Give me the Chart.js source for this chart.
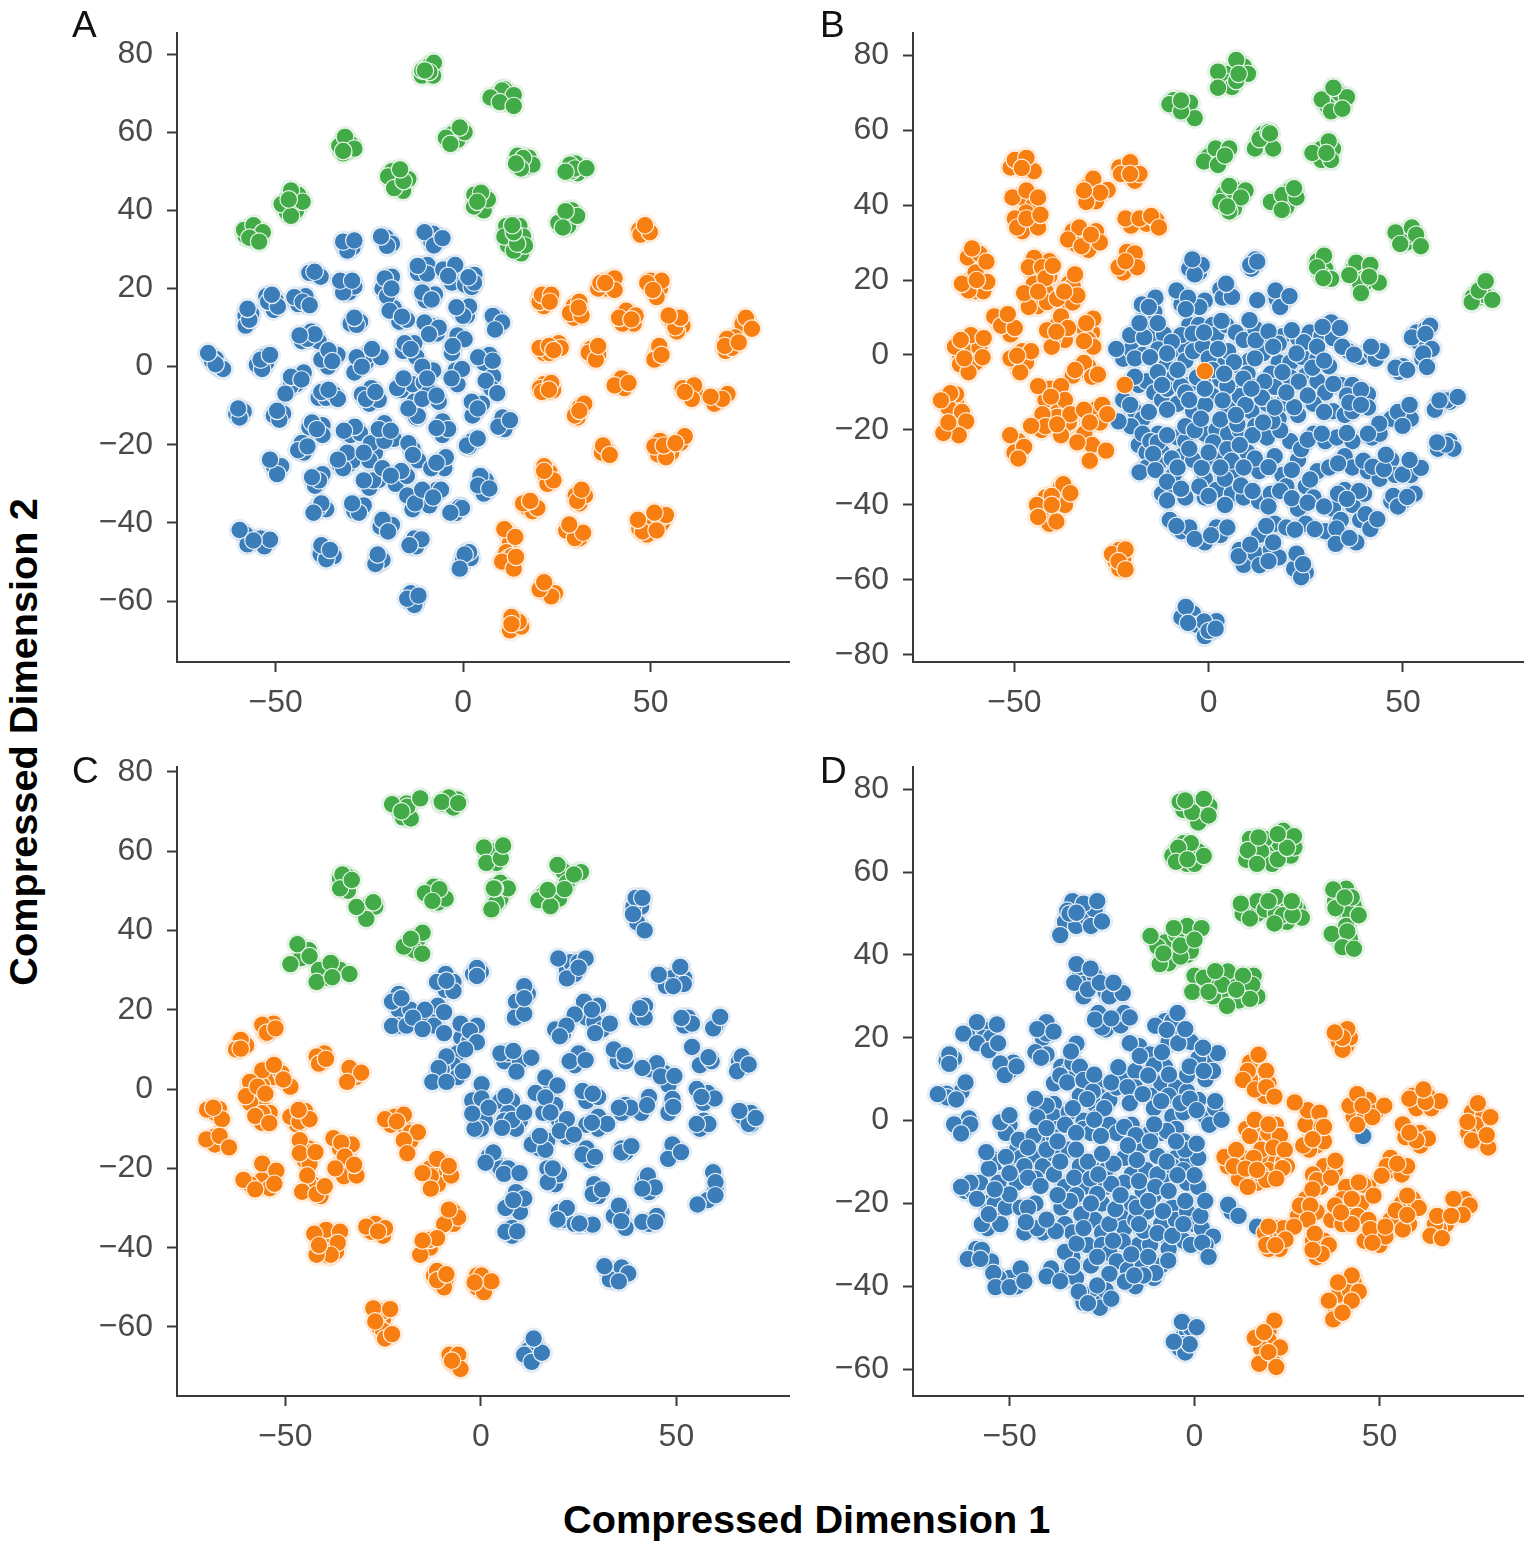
<!DOCTYPE html>
<html>
<head>
<meta charset="utf-8">
<title>Compressed dimensions</title>
<script src="https://cdn.jsdelivr.net/npm/chart.js@4"></script>
<style>
  html, body { margin: 0; background: #fff; }
  #page { position: relative; width: 1535px; height: 1549px; overflow: hidden; font-family: "Liberation Sans", Arial, sans-serif; }
  canvas { position: absolute; }
  .letter { position: absolute; font-size: 37px; line-height: 37px; color: #111; }
  .title { position: absolute; font-size: 39.7px; line-height: 40px; font-weight: bold; color: #000; white-space: nowrap; }
</style>
</head>
<body>
<div id="page">
  <canvas id="chartA" width="740" height="720" style="left:60px;top:10px"></canvas>
  <canvas id="chartB" width="740" height="720" style="left:796px;top:10px"></canvas>
  <canvas id="chartC" width="740" height="720" style="left:60px;top:744px"></canvas>
  <canvas id="chartD" width="740" height="720" style="left:796px;top:744px"></canvas>
  <div class="letter" style="left:72px;top:6px">A</div>
  <div class="letter" style="left:820px;top:6px">B</div>
  <div class="letter" style="left:72px;top:752px">C</div>
  <div class="letter" style="left:820px;top:752px">D</div>
  <div class="title" style="left:563px;top:1499px">Compressed Dimension 1</div>
  <div class="title" style="left:23px;top:742px;transform:translate(-50%,-50%) rotate(-90deg)">Compressed Dimension 2</div>
</div>
<script>
// Tick labels
const aXTicks = [-50, 0, 50], aYTicks = [80, 60, 40, 20, 0, -20, -40, -60];
const bXTicks = [-50, 0, 50], bYTicks = [80, 60, 40, 20, 0, -20, -40, -60, -80];
const cXTicks = [-50, 0, 50], cYTicks = [80, 60, 40, 20, 0, -20, -40, -60];
const dXTicks = [-50, 0, 50], dYTicks = [80, 60, 40, 20, 0, -20, -40, -60];

// Panel A points. The *Under lists sit beneath the visible top dots
const aBlueUnder = [[-66,2],[-67,1.5],[-65,0],[-60.5,-12],[-58.5,-11.5],[-58,13],[-56.5,13.5],[-58,10.5],[-55,0.5],[-52.5,1],[-53,2.5],[-50.5,14.5],[-52.5,18],[-50,17],[-50.5,-12.5],[-48,-12],[-50.5,-25.5],[-48.5,-25.5],[-58,-43],[-54,-44],[-53,-46],[-57.5,-45.5],[-44,16],[-42,18],[-40.5,9],[-43,6.5],[-38.5,6.5],[-44.5,-4.5],[-46,-5],[-42.5,-1.5],[-38.5,-8],[-36.5,-8],[-34.5,-7],[-41,24],[-38,23],[-36,3],[-36,0],[-33.5,3],[-41,-15.5],[-37.5,-15],[-37.5,-17.5],[-43,-19.5],[-42.5,-22],[-39.5,-30.5],[-37.5,-27.5],[-36.5,-36.5],[-38.5,-36],[-37,-48],[-34.5,-48.5],[-38,-48],[-31.5,31],[-29.5,30.5],[-31,21],[-30.5,19],[-29,20.5],[-30,11],[-27.5,11.5],[-26,1],[-25.5,3],[-29,-1.5],[-30,-17.5],[-27.5,-17],[-33,-25],[-30.5,-25],[-29.5,-24],[-23.5,-22],[-25,-24],[-24.5,-5.5],[-25,-9.5],[-22.5,-8.5],[-21,-14.5],[-23,-18],[-18.5,-18.5],[-25,-31],[-22.5,-29],[-18,-30],[-15,-28],[-29,-37],[-26.5,-35.5],[-22,-41],[-19,-40.5],[-22.5,-50],[-21.5,-49.5],[-20.5,33],[-19,31.5],[-21.5,20],[-19,23],[-18.5,15],[-17,11.5],[-15,12],[-16,4],[-13,6],[-12.5,2.5],[-16.5,-6],[-13.5,-4.5],[-13,-9],[-12.5,-13],[-13.5,-21],[-12,-24],[-13.5,-36.5],[-11.5,-33.5],[-12.5,-46],[-13,-44],[-13,-60.5],[-14,-58],[-13,-61],[-12,24],[-9.5,26],[-10,17],[-7.5,18.5],[-8.5,10.5],[-7,8.5],[-8,-1],[-10.5,-4],[-6.5,-9],[-9,-6.5],[-5.5,-14],[-5.5,-17.5],[-5,-26],[-8.5,-26],[-7,-31.5],[-9,-35.5],[-8,34],[-8.5,32],[-3,25.5],[-3,21.5],[-1.5,8],[-3,3.5],[-2,-1],[-1.5,-4.5],[-2,-37.5],[-1,-36],[0,-49.5],[2,-49],[0.5,21],[3,23.5],[-0.5,14],[1,13],[2.5,-19],[1.5,-20.5],[5,-9.5],[2.5,-12.5],[5.5,1],[7,3],[8,-2.5],[7.5,-5.5],[6,-29],[5.5,-32.5],[9,12.5],[9,10.5],[10.5,-13],[11,-16]];
const aBlue = [[-64,-0.6],[-66,0.6],[-68,3.5],[-59.6,-13],[-60,-10.7],[-57,12],[-57.5,14.8],[-53.6,-0.6],[-54,1.8],[-51.5,3],[-52,16.6],[-49.4,15.4],[-51,18.4],[-49,-13.6],[-49.6,-11.3],[-49.6,-27.5],[-51.5,-23.8],[-51.5,-44.3],[-59.6,-41.8],[-55.9,-44.5],[-45,17.8],[-42.8,16.6],[-40.9,15.7],[-41.5,7.1],[-39.6,8.3],[-43.6,8],[-45.9,-2.6],[-43.1,-3.3],[-47.4,-6.9],[-39.6,24.3],[-37.8,1.8],[-35.9,4.2],[-34.9,1.4],[-33.4,-8.3],[-37.8,-6.5],[-35.9,-5.9],[-40.3,-14.3],[-39,-16],[-44,-21.4],[-41.5,-20.4],[-38.4,-29.1],[-40.3,-28.3],[-37.8,-35],[-39.9,-37.4],[-36.5,-49.3],[-37.8,-45.7],[-35.5,-46.9],[-30.9,29.7],[-32,32],[-29,32.3],[-32,19],[-32.8,22],[-29.6,22],[-28.4,10.7],[-29,12.5],[-28.4,2.4],[-22,2.4],[-24.3,4.5],[-27,0],[-28.9,-15.4],[-31.8,-16.4],[-32,-26],[-30.9,-22],[-33.4,-23.8],[-24.6,-19.6],[-26.5,-22],[-27,-7.1],[-25.9,-8.3],[-23.4,-6.5],[-21,-19],[-22.5,-16],[-19.3,-16.4],[-24,-29.1],[-26.5,-29.1],[-21.5,-26],[-16.5,-26.7],[-19.3,-27.9],[-27.8,-37.4],[-29.6,-35],[-21.5,-39.2],[-20,-42.2],[-23.4,-50.5],[-22.8,-48.1],[-20.3,30.9],[-21.9,33.3],[-20.9,22.6],[-20.3,18],[-19.1,20],[-19.6,14.3],[-16.3,12.8],[-15.6,6],[-14,4.5],[-17.6,-5.5],[-15.9,-3],[-12.1,-12.6],[-14.6,-10.7],[-14.6,-19.6],[-13.4,-22.6],[-14.9,-33],[-12.8,-35],[-11.1,-44.2],[-14.3,-45.7],[-14.9,-59.4],[-11.9,-58.6],[-9.6,23.8],[-12.1,25.8],[-10.9,19],[-8.4,17.2],[-10.3,11.3],[-6.5,10],[-9.1,8.3],[-10.9,0],[-9.6,-3],[-10.9,-8.3],[-7.1,-7.4],[-4,-16],[-7.1,-15.7],[-4.6,-23.2],[-7.1,-24.6],[-10.9,-31.5],[-5.9,-31.5],[-8,-33.5],[-10.3,34.4],[-7.8,31],[-5.5,32.9],[-5.3,24.9],[-2.1,26],[-4,23.2],[0.4,7],[-2.8,5.3],[-0.3,-0.6],[-3.1,-3],[-0.3,-36.2],[-3.4,-37.4],[1.6,-47.5],[0.4,-48.1],[-0.9,-51.7],[2.3,20.4],[2.9,21.5],[1.4,22.9],[1.6,15.4],[0,13],[-1.8,15.2],[1,-20.2],[3.9,-18.4],[2.3,-9],[3.9,-10.7],[4,2.4],[6,-3.6],[7.9,1.5],[9.1,-6.8],[4.6,-28],[4,-30.4],[7,-31.2],[7.9,13],[10.4,11.3],[8.5,9.5],[9.4,-15.4],[12.5,-13.7]];
const aOrangeUnder = [[48,35],[47,35],[20.5,17.5],[22,17],[21.5,15.5],[39,22],[38,20],[36,20],[51,20.5],[52.5,20],[50,22],[29.5,15.5],[30,14],[29.5,12.5],[43,13],[45.5,11],[42.5,11],[55.5,12],[58.5,10.5],[57,9],[76,11],[74.5,11],[71,6],[70,4],[72.5,7.5],[21.5,3.5],[23,3.5],[25.5,6],[34,4.5],[36,3],[34.5,2.5],[52,4],[51.5,2.5],[41.5,-4],[43,-5.5],[24,-6],[21.5,-4.5],[20.5,-5.5],[60.5,-6],[62,-7],[58.5,-5.5],[68,-8.5],[70.5,-7],[67,-9.5],[31,-10.5],[30.5,-13],[38,-21],[37,-22],[55.5,-22],[52,-22.5],[58,-19.5],[54.5,-21],[52.5,-19],[22,-28],[23,-27],[22.5,-30],[31,-35],[30,-33],[32.5,-33],[17,-36],[18.5,-37],[29,-42],[31,-44],[27.5,-42],[53,-40],[48.5,-40],[47,-41.5],[49,-43],[53,-38.5],[12,-42.5],[12.5,-45],[11.5,-47.5],[12,-49],[13,-48.5],[21,-57],[22.5,-57.5],[24.5,-58],[13.5,-65],[12.5,-67.5],[15.5,-66.5]];
const aOrange = [[47.3,33.8],[49.8,34.4],[48.5,36.2],[20.4,16.6],[21,18.4],[23.5,18.4],[23.1,16.6],[40.4,22.6],[36.6,21.4],[40.4,19.6],[37.9,21.4],[52.9,22],[49.1,21.4],[51.6,17.8],[50.6,19.6],[28.5,13.7],[31.6,13.1],[31,16.6],[30.8,15.1],[43.5,14.3],[41.6,12.5],[46,13.1],[44.9,12.1],[56.6,10.1],[57.9,12.5],[54.8,13.1],[75.4,12.5],[77,9.7],[70.4,7.1],[71.6,4.8],[69.8,5.3],[73.5,6.2],[20.4,4.8],[26,4.8],[22.9,5.3],[24.1,4.2],[33.5,3.6],[35.4,1.8],[36,5.3],[51,1.8],[52.3,5.3],[52.9,3],[42.3,-3],[40.4,-4.8],[44.1,-4.2],[23.5,-4.2],[21,-6.5],[22.9,-5.9],[61.6,-4.8],[61,-8.3],[59.1,-6.5],[69.1,-8.3],[66,-7.7],[32.3,-9.5],[29.8,-12.5],[31,-11.3],[37.3,-20.2],[39.1,-22.6],[59.1,-17.8],[54.1,-23.2],[51,-20.4],[53.5,-20.2],[56.6,-19.6],[24.1,-29.1],[21.6,-25.5],[21.6,-26.7],[30.4,-34.4],[31.6,-31.5],[19.8,-36.2],[16,-35],[17.9,-34.4],[29.8,-43.9],[32,-42.5],[28.3,-40.4],[54.1,-38],[51,-37.4],[47.9,-42.2],[46.6,-39.2],[51.6,-41.9],[11,-41.6],[13.9,-43.6],[10.4,-49.9],[13.5,-51.7],[14.1,-48.7],[23.5,-58.8],[20.4,-57],[21.6,-55.2],[14.8,-65.3],[12.9,-64.1],[12.9,-65.9]];
const aGreenUnder = [[-9,77],[-11,74.5],[-8,74.5],[9,69],[12,68],[11,71],[-1,59],[-3,59.5],[-1.5,58],[-31,55.5],[-33,56.5],[-30,57],[-17.5,48.5],[-16,45],[-19,50],[16.5,51],[14.5,54],[17.5,53.5],[30.5,49.5],[29,50],[30,52],[5,41],[5.5,40],[3,44],[-47,39.5],[-44.5,40],[-44,44],[-56.5,33.5],[-58,33.5],[-55,34.5],[13,32],[12,31],[15,36],[11.5,36],[15.5,29],[28.5,37],[29,40],[28,36]];
const aGreen = [[-7.8,77.8],[-9,75.4],[-10.9,75.8],[-10.2,75.8],[10.4,70.7],[13.5,69.5],[7.3,68.9],[9.8,67.7],[13.5,66.7],[0.4,60],[-0.9,61.2],[-4.6,58.6],[-3.4,57],[-31.5,58.8],[-29,55.8],[-32,54.6],[-32,55.2],[-14.6,48],[-20,48.7],[-18.4,45.7],[-15.9,47.5],[-16.8,50.5],[18.5,51.7],[16,53.4],[15.4,50.7],[14.1,52],[28.5,51.7],[29.8,50.7],[27.3,49.9],[32.9,50.8],[6.6,42.8],[4.8,44.5],[2.9,41],[3.8,42.2],[-45.9,45.1],[-42.8,42.2],[-48.4,41.6],[-45.9,38.6],[-46.5,42.8],[-58.4,35],[-55.9,36.2],[-53.4,34.4],[-57,33],[-54.4,32],[16,33.3],[11,33.3],[13.5,29.7],[16.5,31],[14.4,31.5],[13.5,34.4],[13.1,36.2],[30.4,38.6],[25.4,36.8],[27.3,39.8],[26.6,35.6]];

// Panel B points
const bBlueUnder = [[-5,23],[-2.5,22],[11,23],[12,25.5],[5,17],[3,17.5],[19,14.5],[17.5,15],[-7,16],[-7,13.5],[-4,13],[-1,14.5],[-15,14],[-16,11],[-14,11.5],[-18,6.5],[-15,7],[-14.5,5],[-11.5,5.5],[-8.5,1.5],[-6,2],[-5,8],[-2.5,8],[1,8],[2,5.5],[4.5,8],[7,6],[9,4],[12,7],[14,4],[19,5],[18,3],[23,4.5],[26,6],[25.5,1],[31,6],[29,5],[32,4.5],[53.5,6],[54,3.5],[56,7],[-22,-1],[-20,1.5],[-17,0],[-13,1.5],[-11,-3],[-6,-1.5],[-4,1],[-1.5,2.5],[3.5,-1],[5,1],[8,-3],[10.5,-1.5],[14,0.5],[18,-2],[21,-2],[24,-0.5],[28,-1],[31,-3],[36,1],[39,-0.5],[42,0.5],[43,-1],[56,2],[49,-4.5],[50,-3],[55,-1],[-18,-8],[-16,-7],[-14,-10],[-12,-6],[-9,-6],[-5,-8],[1,-8],[3,-6.5],[6,-9],[10,-5],[12,-8.5],[16,-5],[17,-8.5],[21,-6],[25,-5.5],[28,-7],[30,-10],[34,-8],[37,-8],[38,-11],[41,-10.5],[-22,-12],[-19,-15],[-17,-17],[-12,-12],[-8,-13],[-4,-15],[1,-11],[5,-14],[8,-11],[11,-15],[15,-13],[19,-13],[23,-16],[27,-13],[32,-15],[35,-16],[37,-15],[41,-14],[47,-17],[50,-16],[52,-17],[59,-13.5],[62,-12.5],[-20,-19],[-18,-24],[-16,-26],[-13,-21],[-12,-26],[-8,-22],[-6,-23],[-1,-21],[2,-20],[5,-21],[8,-20],[12,-19],[15,-22],[18,-17],[21,-23],[27,-21],[30,-23],[33,-22],[37,-23],[42,-22],[44,-21],[59,-25],[62,-23],[63,-25],[-16,-30],[-13,-29],[-9,-32],[-7,-27],[-4,-28],[-1,-33],[2,-28],[7,-31],[10,-26],[13,-31],[17,-27],[19,-32],[23,-28],[25,-35],[28,-31],[31,-30],[35,-27],[37,-30],[41,-31],[44,-33],[47,-28],[48,-32],[52,-32],[-12,-37],[-9,-36],[-6,-38],[-1,-38],[2,-36],[6,-37],[9,-38],[13,-39],[16,-37],[20,-35],[23,-41],[27,-38],[32,-41],[35,-36],[37,-40],[40,-37],[47,-39],[50,-39],[53,-37],[39,-44],[42,-44],[-10,-44],[-7,-47],[-5,-46],[-1,-50],[2,-46],[3,-48],[13,-48],[17,-45],[20,-46],[25,-45],[30,-47],[34,-44],[38,-50],[8,-52],[9,-56],[12,-53],[16,-52],[18,-54],[22,-57],[25,-58],[-7,-70],[-4,-69],[-3,-72],[-1,-75],[2,-71]];
const bBlue = [[-1.8,24],[-3.6,21.5],[-4.2,25.5],[10.7,24],[12.5,24.9],[3.6,15.3],[6,15.5],[4.5,19],[17.2,17.2],[18.4,12.8],[20.8,15.7],[-8.3,17.2],[-2.4,12.8],[-5.3,15.3],[-5.9,12.2],[-17.2,13.5],[-13.7,15.3],[-15.4,12.8],[12.5,14.6],[-20.2,5.3],[-16.6,4.7],[-13.1,8.5],[-17.8,8.5],[-7.1,5.3],[-9.5,3.5],[-4.1,5.7],[-1.2,6],[3.3,9.1],[12.1,3.9],[10.5,9.3],[15.4,6.3],[24.5,3.4],[21.4,6.6],[16.6,2.2],[31.5,8.7],[33.8,7.2],[29.3,7.5],[52.3,4.7],[57,7.8],[55.8,5.6],[-19,-0.9],[-10.7,0.4],[-23.8,1.6],[-15.1,-0.6],[0,-0.9],[2.4,1.6],[6.5,-1.9],[27.9,2.2],[22.6,0.4],[11.9,-0.9],[26.7,-3.4],[29.7,-1.5],[34.4,2.2],[37.4,0.1],[44.5,1],[41.8,2.2],[57.4,1.6],[55.2,0.4],[48.1,-3.4],[56.2,-3.2],[51.1,-4],[-13.1,-4.6],[-19,-5.8],[-10.7,-9],[-7.1,-8.3],[8.9,-6.3],[4.8,-8.3],[19,-4.6],[14.3,-7.1],[32.1,-7.7],[23.2,-7.1],[35.6,-10.8],[39.2,-9.3],[-15.4,-15.2],[-10.7,-14.6],[-20.2,-13.3],[3.6,-12.1],[9.5,-13.3],[-0.9,-13.3],[13.7,-11.4],[25.5,-10.8],[29.7,-15.2],[22,-13.9],[36.2,-12.7],[39.2,-13.3],[48.7,-15.2],[49.9,-18.9],[51.7,-13.3],[61.3,-12.1],[58.2,-14.6],[59.4,-12.1],[64.1,-11.2],[-23.2,-17.7],[-17,-21],[-15,-23],[-13.1,-23.3],[-10.7,-21.4],[-6,-19],[3,-17.2],[-3.6,-20.1],[1.2,-23.3],[4.8,-25.1],[7.4,-18.5],[18.4,-20.1],[11.3,-21.4],[16.4,-17.7],[23.8,-25.1],[25.5,-22.6],[29.1,-21],[35.6,-20.8],[43.9,-18.3],[41,-21],[61,-23.9],[58.8,-23.3],[-14.3,-26.4],[-9.5,-27.6],[-17.8,-31.3],[-13.7,-30.7],[-10.7,-33.8],[-1.8,-30.1],[5.9,-28.2],[11.9,-27.6],[15.4,-29.9],[21.4,-30.7],[26.1,-33.2],[33.3,-28.9],[39.8,-28.2],[42.2,-29.8],[45.1,-30.5],[45.6,-26.6],[54.6,-30.1],[49.9,-31.9],[51.7,-28],[-7.1,-35.7],[-10.7,-38.8],[-2.4,-35.1],[4.2,-33],[0,-37.6],[4.2,-40],[8.3,-34.8],[11.3,-36.3],[18.4,-36.3],[15.4,-40.4],[21.4,-38.2],[25.5,-39.4],[29.7,-40.4],[33.3,-37],[38.7,-36.3],[35.6,-38.4],[47.5,-37.6],[48.7,-40.4],[51.1,-37.9],[40.4,-42.5],[41.6,-46.4],[43.4,-43.8],[-8.3,-45.6],[-3.6,-49.1],[0.6,-48.1],[4.8,-46],[14.8,-45.6],[22.2,-46.6],[27.3,-46.5],[32.9,-46.3],[32.7,-50.4],[36.2,-48.8],[16.6,-50],[7.7,-53.7],[13.1,-56.1],[10.7,-50.6],[15.4,-55],[22.6,-53],[23.8,-59.3],[24.3,-55.8],[-5.9,-67.2],[-1.2,-71.1],[0,-73.6],[-5.3,-71.5],[1.8,-73],[-6,-10],[-3,-6],[1,-4],[4,-5],[-1,-9],[7,-16],[11,-9],[17,-14],[20,-10],[14,-18],[-8,-4],[-12,-8],[-5,-12],[-2,-17],[0,-26],[8,-24],[-5,-25],[3,-30],[-8,-30],[9,-30]];
const bOrangeUnder = [[-51,50],[-47,50],[-45,49],[-48,42],[-45,40],[-47,38],[-45,35.5],[-48,33],[-31,45],[-29,41],[-26,44],[-20,49],[-19,46.5],[-23,50],[-16,35],[-20,34.5],[-13.5,36],[-35,33],[-34,29.5],[-31,28],[-29,33],[-21,27.5],[-19,24],[-22,22],[-62,26],[-59,27],[-60,22],[-62,19],[-60,17],[-58,17],[-45,22],[-44,25],[-41,25],[-41,21],[-45,19],[-46,15],[-42,17],[-44,13],[-36,19],[-35,18.5],[-37,14],[-35,14],[-54,9],[-52,8],[-51,5.5],[-39,8],[-37,4],[-40,4.5],[-30,6],[-32,7],[-31,4],[-60,3],[-64,0],[-62,2.5],[-60,-2],[-59,2],[-64,-2.5],[-48,1],[-49,-3],[-47,-2],[-33,-4],[-31,-3],[-35,-5.5],[-41,-9],[-39,-13],[-42,-12],[-65,-13],[-66,-17],[-64,-19],[-65,-10.5],[-67,-14],[-41,-17],[-39,-16.5],[-37,-19],[-43,-20],[-36,-18],[-31,-16],[-29,-14.5],[-28,-18],[-32,-21],[-30,-24],[-49,-23],[-50,-26],[-38,-38],[-38,-35],[-42,-38],[-42,-42],[-41,-45],[-37,-40],[-23,-52],[-24,-55],[-22,-54.5],[-23,-57]];
const bOrange = [[-49.9,52],[-46.9,52.6],[-48.1,49.9],[-50.5,42],[-46.9,43.9],[-43.9,42],[-49.9,36.4],[-49.3,34],[-43.9,34],[-46.9,36.4],[-43.3,37.4],[-29.7,47],[-27.9,43.3],[-31.5,40.8],[-32.1,43.9],[-20.2,51.4],[-17.8,48.3],[-22.6,48.3],[-20.2,48.3],[-21.4,36.4],[-17.8,36.4],[-14.8,37.1],[-12.8,34],[-33.3,34],[-36.2,30.8],[-32.7,29],[-28,30],[-30.3,32.1],[-19,27.1],[-18.4,23.4],[-23.2,23.4],[-21.4,25],[-60.9,28.4],[-57.2,24.9],[-61.8,17.2],[-57,19.5],[-63.5,19],[-59.7,20],[-44.9,25.9],[-46.3,23.4],[-42.9,23.4],[-42,20.5],[-40.1,23.8],[-46.3,12.8],[-41.6,14.1],[-47.5,16.5],[-43.9,16.9],[-34.4,21.5],[-33.8,15.9],[-39,15],[-37.4,17.2],[-37.2,16.9],[-55.2,10.3],[-53.4,7.8],[-49.9,7.2],[-51.7,10.9],[-38,10.3],[-40.4,2.2],[-36.2,7.2],[-41.6,6.6],[-39.2,6.2],[-29.7,9.7],[-31.5,8.5],[-29.7,2.2],[-32.1,3.7],[-61.2,5.3],[-65.3,2.2],[-63.8,4],[-61.8,-4.6],[-58.2,-0.6],[-57.9,4.5],[-62.9,-0.9],[-51,-0.9],[-45.7,1],[-48.5,-4.6],[-49.3,-0.2],[-32.1,-2.1],[-30,-5.8],[-28.5,-5.2],[-34.4,-4],[-43.9,-8.3],[-38,-8.3],[-37,-12],[-40.6,-11.1],[-66.5,-10.2],[-63.5,-15.2],[-62.4,-17.7],[-64.3,-21.4],[-68.3,-20.8],[-68.9,-12.1],[-67,-18],[-42.8,-15.8],[-35.6,-15.8],[-42,-19],[-38,-21.4],[-45.7,-18.9],[-39,-18.5],[-32.1,-14.6],[-27.4,-13.3],[-26.1,-15.8],[-33.8,-23.3],[-26.4,-25.5],[-30.6,-28.2],[-30.6,-18],[-47.5,-24.5],[-51.1,-21.4],[-49,-27.6],[-37.4,-34.5],[-35.6,-36.9],[-44.2,-40],[-39.2,-44.4],[-43.9,-43.2],[-40.4,-37.6],[-40.4,-40],[-24.9,-53.1],[-21.4,-51.9],[-23.2,-55],[-21.4,-57.2],[-21.6,-8],[-1,-4.3]];
const bGreenUnder = [[-8,66],[-6,65],[-9,68],[5,75],[4,73],[6,71.5],[9,77],[31,68],[33,67],[33,70],[30.5,66.5],[13,56],[15,56.5],[14,59],[29,55],[29,52],[32,55],[3,53],[0,53],[1.5,52],[6,41],[7,44],[4,43],[6.5,39],[18,41],[20,39.5],[21,44],[50,31],[51,30],[52,32],[28,25],[30,23],[29,21.5],[39,22],[40,19],[37.5,23.5],[39,19],[69,15],[68,15.5],[71,16]];
const bGreen = [[-10.1,66.9],[-4.8,67.3],[-3.6,63.2],[-7.1,65],[-7.1,67.9],[2.4,75.6],[10.1,75],[7.1,78.7],[7.1,73.1],[2.4,71.3],[7.7,75],[29.1,68.2],[35.6,68.8],[31.5,65],[32.1,71.3],[34.4,65.7],[11.9,55.1],[16.6,55.1],[13.1,57.6],[15.4,59.5],[15.8,59.1],[30.9,57],[26.7,53.9],[31.5,52],[30.3,53.9],[1.8,55.1],[5.3,55.1],[-1.2,51.6],[2.4,50.7],[4.2,53.2],[5.3,45.1],[9.5,43.9],[8.3,42],[3,40.8],[5.3,38.3],[4.8,39.6],[16,40.8],[19,42.7],[22.6,42],[18.8,38.7],[22,44.5],[48.1,32.7],[52.3,34],[49.3,29.6],[53.4,32.1],[54.6,29],[29.7,26.5],[27.9,23.4],[31.5,20.3],[29.5,20.5],[38,24.6],[41.6,24],[39.2,16.5],[43.8,19.3],[36.2,21.3],[41.3,20.9],[67.7,14.1],[69.5,17.2],[73,14.7],[71.3,19.7]];

// Panel C points
const cBlueUnder = [[40,42],[41,46],[39,46],[22,30],[23,32],[25,32],[47,28],[49,28],[52,28],[-2,29],[0,29.5],[-9,25],[-9,29],[-7,27],[10,20],[9,22],[12,24],[-21,20],[-21,24],[-21,16],[-18,20],[-16,17],[-13,18],[-12,16],[-11,21],[27,18],[29,17],[31,15],[30,21],[40,18],[42,21],[52,16],[53,18],[60,16],[19,15],[21,14],[-5,13],[-3,12],[-1,16],[-6,9],[-7,6],[6,7],[7,9],[10,7],[-11,3],[-10,5],[-6,3],[24,6],[25,9],[35,7],[37,7],[43,5],[47,4],[48,1],[56,6],[59,7],[67,6],[66,7],[18,0],[17,-2],[5,-3],[8,-3],[14,-1],[27,-3],[30,-2],[26,-0.5],[57,-3.5],[58,-1],[-1,-4],[-1,-7],[1,-8],[0,-10],[7,-6],[6,-8],[10,-8],[9,-10],[16,-6],[19,-4],[20,-8],[36,-6],[37,-4],[41,-6],[43,-2],[48,-6],[49,-2.5],[30,-10],[27,-9],[30,-7],[56,-10],[57,-8],[67,-7],[69,-6],[69,-9],[22,-12],[21,-9],[14,-13],[15,-15],[17,-13],[27,-15],[28,-18],[36,-15],[37,-16],[49,-16],[49,-14],[2,-17],[4,-19],[5,-20],[7,-20],[18,-22],[19,-24],[17,-20],[29,-24],[30,-27],[42,-23],[43,-26],[60,-25],[58,-28],[8,-30],[9,-26],[10,-31],[21,-33],[24,-34],[26,-34],[20,-31],[36,-31],[34,-32],[37,-35],[43,-34],[45,-32],[8,-35],[8,-37],[33,-46],[35,-47],[36,-45],[33,-48],[13,-65],[12,-66],[14,-67],[14,-65]];
const cBlue = [[41.9,40],[39.6,48.2],[38.9,44.1],[41.3,48.2],[24,29],[22,27.9],[26.8,32.9],[19.8,32.9],[25,30.6],[47.3,26],[51.9,26.5],[49.2,25.9],[45.5,28.8],[51,30.8],[-1,30.5],[-1,28.5],[-11.2,27],[-7,24.7],[-8.8,27.3],[11.1,25.9],[8.7,18],[11.1,19],[11.1,22.9],[-22.7,22],[-20.3,22.9],[-22.7,15.9],[-19,16],[-14.3,20],[-17.4,18],[-14.9,15.1],[-9.4,19.4],[-9.4,14.1],[26.4,22],[24,18.8],[33,16.5],[28.4,20],[29.2,14.1],[41.9,18],[40.7,20.4],[54,16.5],[51.3,17.9],[59.4,15.3],[61.2,18.2],[21.9,16],[20.2,13.3],[-5.2,16.5],[-2.8,14.7],[-1,11.8],[-8.8,8.2],[-4,10],[5,9],[12.9,7.9],[8.3,9.6],[9.1,4.4],[-10.8,5.3],[-12.4,1.8],[-8.8,1.8],[-4.6,4.5],[0.2,1.2],[22.7,7],[26.8,7.3],[34,10],[36.8,8.5],[45,6.5],[41.3,5.3],[46,3.2],[49.5,3.3],[54,10.6],[58.2,8],[66.7,8.2],[65.5,4.5],[68.5,6.2],[16.5,2.9],[19.6,0.9],[6.3,-1.8],[16.5,-2.1],[28.6,-1.2],[55.2,0],[59.8,-2.4],[56.4,-2],[-2.2,-2.9],[0.2,-2.4],[2,-4.7],[-1.6,-10],[-2.2,-6.2],[8,-7.8],[11.1,-5.9],[5.4,-9.8],[17.8,-5.9],[22,-7.6],[38.3,-4.7],[35.3,-4.7],[42.5,-4.1],[49.2,-4.5],[32.3,-8.8],[28.4,-8.5],[58.2,-8.8],[55.2,-8.8],[68.5,-8.8],[66.1,-5.5],[70.3,-7.3],[20.2,-10.6],[23.8,-11.5],[13,-14],[16.5,-15.3],[15.1,-11.8],[26,-16.5],[29.2,-17.1],[35.9,-16],[38.5,-14.4],[47.9,-17.6],[51.2,-15.9],[3.2,-16],[5.9,-21.4],[9.9,-21.2],[1.2,-18.6],[20,-21.5],[17.1,-23.5],[18.4,-20],[28.6,-26.5],[31,-25.3],[42.7,-21.8],[44.5,-24.8],[41.3,-25.1],[59.4,-21],[60,-23.5],[60,-26.8],[55.4,-29.1],[6.3,-30],[11.1,-27.6],[8.3,-28],[22,-30],[28.6,-34.2],[19.6,-32.9],[25.2,-33.9],[35.3,-29.4],[35.9,-33.3],[41.3,-33.5],[44.6,-33.5],[6.3,-36],[9.3,-35.9],[31.6,-44.7],[37.7,-46.5],[35.3,-48.5],[11.1,-67],[13,-68.8],[15.6,-66.5],[13.5,-62.9]];
const cOrangeUnder = [[-54,15],[-55,14],[-53,16.5],[-62,11],[-60,11],[-40,9],[-41,7],[-32,3],[-33,3.5],[-53,3],[-51,4],[-56,1],[-58,-1],[-56,-3],[-59,1],[-54,-6],[-56,-8.5],[-68,-6],[-67,-5],[-68,-12],[-68,-14],[-46,-7],[-45,-5.5],[-47,-9],[-22,-7],[-20,-9],[-23,-9],[-18,-11],[-18,-13],[-36,-15],[-34,-15],[-44,-15],[-45,-18],[-44,-16],[-35,-20],[-33,-21],[-35,-22],[-43,-24],[-44,-24],[-41,-27],[-54,-21],[-56,-23],[-59,-24],[-54,-25],[-10,-19],[-10,-22],[-13,-20],[-11,-24],[-7,-31],[-7,-34],[-39,-38],[-40,-40],[-37,-41],[-40,-37],[-39,-42],[-28,-36],[-27,-34],[-25,-37],[-13,-40],[-13,-38],[-12,-47],[-9,-48],[-10,-49],[-1,-50],[1,-49.5],[-1,-47],[-25,-58],[-25,-56],[-26,-60],[-25,-61],[-7,-69],[-6,-68],[-8,-67]];
const cOrange = [[-55.9,16.2],[-54.7,14.2],[-52.5,15.3],[-61.4,12.4],[-62.6,10],[-61.4,10.2],[-42,8.2],[-41.4,6.4],[-39.6,7.6],[-33.6,5.3],[-30.6,4.1],[-34.2,1.8],[-55.9,4.7],[-48.7,0.6],[-50.5,2.4],[-52.9,6.1],[-59,1.8],[-59,-3.5],[-60.1,-1.8],[-57.1,0.6],[-55.1,-1.2],[-55.9,-6.1],[-57.7,-6.8],[-54.1,-8.6],[-66.2,-7.6],[-70,-5.2],[-68.4,-4.7],[-70.2,-12.7],[-66.8,-11.8],[-64.4,-14.7],[-48.7,-7],[-46.4,-8.2],[-43.8,-7.6],[-46.6,-5.3],[-24.5,-7.6],[-19.7,-6.5],[-21.5,-8.2],[-16.1,-10.9],[-19.7,-12.9],[-18.8,-16.2],[-37.7,-12.4],[-33,-14],[-35.7,-13.5],[-46.3,-12.9],[-43.8,-18.8],[-46.3,-16.2],[-42.3,-15.9],[-34.8,-17],[-37.2,-20],[-31.8,-21.8],[-32.4,-19.1],[-44.4,-21.8],[-45.7,-25.9],[-42,-26.5],[-39.9,-24.5],[-55.9,-18.8],[-52.3,-20.6],[-60.7,-22.9],[-57.7,-25.3],[-52.8,-23.9],[-11.2,-17.6],[-7.6,-21.8],[-12.8,-22],[-14.9,-21.2],[-12.8,-25.1],[-8.2,-19.4],[-5.8,-32.4],[-9.4,-34.1],[-8.2,-30.4],[-39.6,-35.5],[-36,-36],[-36.6,-38.8],[-42.6,-36.5],[-38.4,-41.8],[-42,-41.8],[-41.4,-39.4],[-29.3,-34.7],[-24.5,-35.1],[-26.3,-35.9],[-11.2,-37.6],[-15.5,-41.8],[-14.9,-38.2],[-11.2,-45.9],[-9.4,-50],[-11.2,-48.2],[-8.8,-46.7],[0.2,-47],[0.8,-51.2],[2.7,-48.5],[-1.6,-48.8],[-27.5,-55.3],[-23.2,-55.5],[-24.5,-62.9],[-27,-58.6],[-22.7,-61.8],[-5.8,-67],[-5.2,-70.6],[-7.4,-68.5]];
const cGreenUnder = [[-21,71],[-20,68.5],[-19,72],[-10,72],[-7,71],[-6,73],[2,58],[3,60],[4,57],[4,49],[5,52],[5,48],[21,55],[22,52],[18,48],[20,48],[16,49],[-34,50],[-36,53],[-34,53.5],[-30,45],[-29,46],[-12,49],[-11,47],[-12,51],[-17,36],[-16,38],[-17,35],[-44,35],[-46,33],[-40,28],[-39,29.5],[-36,30]];
const cGreen = [[-22.7,71.8],[-17.9,68.2],[-18.8,71.2],[-20.3,70],[-15.5,73.3],[-8.2,73.5],[-10,72.4],[-5.8,72.1],[0.8,60.9],[1.4,57],[5.1,58.2],[5.7,61.4],[3.9,47],[6.9,50.6],[3.6,50.6],[3.3,50.6],[2.7,45.3],[19.6,56.5],[25.6,54.7],[23.8,54.1],[21.4,50.4],[14.7,47.6],[17.8,46.1],[17.1,50.2],[-35.4,54.1],[-36,50.6],[-33,52.7],[-27,46],[-29.3,42.9],[-31.8,45.9],[-27.5,47.1],[-9,48],[-14.3,49.4],[-10.6,50.4],[-12.4,47.4],[-14.9,39.4],[-19.7,35.9],[-15,34.1],[-17.9,37.9],[-46.9,36.5],[-43.8,33.5],[-48.7,31.5],[-41.4,30],[-42,27],[-38.4,31.8],[-33.6,29],[-38,28.2]];

// Panel D points
const dBlueUnder = [[-60,21],[-57,22],[-57,20],[-55,20],[-65,15],[-67,14.5],[-63,7],[-67,6.5],[-64,-1],[-62,-2],[-61,0.5],[-50,-1],[-51,-3],[-48,-7],[-55,-9],[-53,-10],[-50,-10],[-47,-9],[-62,-17],[-60,-17],[-58,-15],[-53,-15],[-48,-15],[-56,-20],[-54,-20],[-53,-23],[-56,-26],[-51,-21],[-60,-33],[-59,-31],[-55,-34],[-50,-38],[-53,-38],[-48,-40],[-50,12],[-49,14],[-41,20],[-40,21],[-40,16],[-36,13],[-34,12],[-38,9],[-33,14],[-31,13],[-29,8],[-25,8],[-26,6],[-42,3],[-38,4],[-41,1],[-38,1],[-31,6],[-27,4],[-26,1],[-30,0],[-34,2],[-37,-2],[-41,-4],[-38,-4],[-30,-2],[-28,-3],[-23,-1],[-21,-3],[-23,5],[-21,8],[-19,11],[-16,12],[-15,18],[-12,16],[-11,11],[-8,13],[-9,9],[-5,8],[-16,8],[-12,6],[-11,3],[-7,6],[-6,1],[-3,2],[-2,7],[1,5],[3,1],[4,-1],[-5,-2],[-9,-3],[-12,-3],[-17,-1],[-14,-6],[-5,-9],[-2,-10],[-3,-5],[1,-9],[-43,-9],[-41,-11],[-38,-8],[-34,-7],[-31,-11],[-27,-12],[-24,-12],[-19,-9],[-17,-13],[-13,-12],[-8,-13],[-6,-11],[-46,-11],[-43,-14],[-38,-13],[-35,-16],[-30,-16],[-24,-16],[-19,-15],[-14,-17],[-10,-13],[-2,-15],[1,-16],[-3,-12],[-36,-21],[-32,-18],[-29,-22],[-25,-20],[-20,-23],[-17,-20],[-11,-18],[-6,-21],[-43,-20],[-47,-21],[-46,-27],[-41,-27],[-35,-25],[-33,-27],[-27,-24],[-25,-27],[-19,-26],[-16,-24],[-13,-22],[-9,-25],[-5,-24],[-2,-22],[0,-25],[2,-26],[5,-28],[10,-22],[-7,-29],[-3,-29],[-1,-30],[3,-30],[-33,-33],[-29,-30],[-25,-30],[-23,-32],[-21,-34],[-15,-30],[-12,-30],[-9,-35],[-7,-31],[-35,-38],[-32,-38],[-28,-35],[-23,-37],[-18,-36],[-14,-35],[-11,-38],[-28,-42],[-26,-42],[-30,-44],[-25,-44],[-24,-41],[-16,-40],[-35,48],[-32,47],[-33,53],[-29,49],[-27,51],[-28,47],[-31,35],[-30,33],[-27,35],[-24,31],[-23,30],[-30,30],[-26,26],[-24,22],[-20,23],[-19,26],[-8,24],[-6,24],[-4,20],[-7,19],[-1,19],[4,14],[1,15],[3,10],[-2,11],[-3,-52],[-2,-51],[-1,-50],[-4,-55],[-3,-54]];
const dBlue = [[-53.4,23.2],[-62.5,21],[-58.8,18.7],[-55.6,17],[-53.1,18.7],[-58.8,23.8],[-66.3,16],[-66.3,13.7],[-61.9,9.2],[-66.9,5.6],[-69.4,6.4],[-64.4,5.1],[-65,-0.9],[-60.6,-0.9],[-63.1,-3.1],[-52.5,-0.4],[-50,1.3],[-47.5,-4.6],[-51,-8.8],[-55.6,-11.6],[-56.3,-7.6],[-60.6,-15],[-58.8,-18.9],[-63.1,-16],[-50,-17.8],[-54,-16.6],[-57.5,-25],[-52.5,-25],[-55.6,-22.6],[-57.5,-31.2],[-61.3,-33.4],[-57.9,-33.4],[-54.4,-36.8],[-47,-35.7],[-53.8,-40.2],[-50,-40.2],[-46,-38.8],[-52.5,13.8],[-51.3,11],[-48.1,13.1],[-40,23.8],[-42.5,22.1],[-38.1,21.5],[-43,16.5],[-41.5,15.2],[-36.3,10.9],[-31.9,18.6],[-34.4,9.2],[-33.4,16.7],[-30,9.8],[-27.5,7],[-27.1,11.1],[-40,3.6],[-43.1,5.3],[-42.5,0.8],[-29,5.2],[-32.9,3],[-24.4,3],[-35,-1],[-43.5,-3.7],[-40,-1.8],[-32,-3],[-27.1,0.2],[-19,-1.5],[-25.3,-3.7],[-22.5,9.2],[-20.6,12.9],[-18.1,8.1],[-17.5,18.7],[-11,13.3],[-8.8,16.5],[-14.8,15.6],[-6.9,11.1],[-12.5,10.9],[-17.5,4.2],[-14,6.4],[-9,4.7],[-3.8,4.2],[-1.3,5.3],[0.6,2.5],[5.6,3],[5.6,4.7],[7.3,0.2],[-7.5,-2.5],[-15.9,-3.5],[-10.9,-0.9],[-2.5,-7],[0.6,-5.6],[-40,-7],[-45,-6.5],[-36.3,-9.9],[-21.9,-10.4],[-10,-8.5],[-7.5,-9.9],[-28.8,-9.9],[-15.6,-9.5],[-50,-12.7],[-45,-13.8],[-41.6,-15.8],[-22.5,-15.3],[-32.5,-13.8],[-28.1,-14],[0,-13.2],[-15,-14.6],[-4.6,-13.2],[-10.6,-16],[-33.7,-19.4],[-26.3,-17.7],[-42.5,-26],[-45,-21],[-37.5,-26.7],[-40,-23.9],[-45.6,-24.5],[-23,-25],[-15.6,-21],[-30.6,-22.6],[-21.4,-21.4],[-12.5,-19.4],[-8.5,-21.9],[-2.5,-19.4],[1.6,-23],[2.9,-19.4],[9.1,-20.3],[11.9,-23],[16.9,-25.6],[-13.7,-26.6],[-10,-27.2],[-6,-27.8],[-35,-31.7],[-31.9,-29.7],[-26.3,-32.9],[-19.4,-29.2],[-17.1,-32.3],[-12.5,-32.9],[-10.6,-36.8],[-7.1,-33.8],[2.1,-29.5],[3.8,-32.9],[-38.8,-35.7],[-40,-37.6],[-33.1,-35.1],[-36.3,-38.8],[-25.6,-45.2],[-31.3,-41.3],[-28.8,-44.1],[-22.5,-43],[-26.3,-39.8],[-18.8,-38.9],[-13.8,-37.4],[-16.3,-37.4],[-34.4,50.7],[-33.8,50],[-30,52.4],[-25,48.1],[-36.3,44.8],[-26.3,53],[-31.9,50.2],[-32.5,33.3],[-28.8,31.7],[-25.6,33.3],[-19.4,30.8],[-21.9,33.3],[-31.9,37.8],[-28.1,36.7],[-25,22.5],[-17.5,24.9],[-26.9,24.4],[-22.5,24.7],[-10.6,22.9],[-4.4,18.7],[-2.5,22.1],[-7.5,21.9],[-4.6,26],[5,12],[6.3,16.3],[-1.3,13.1],[2.5,12],[2.3,17.6],[45.6,-3.7],[-3.4,-48.6],[-2.5,-56],[0.6,-49.9],[-1.3,-54],[-5.6,-53.4],[-25,-8],[-18,-6],[-32,-7],[-37,-5],[-12,-5],[-5,-5],[-28,-20],[-20,-18],[-37,-18],[-7,-17],[-15,-25],[-22,-29],[-30,-26],[-3,-25],[-26,-13]];
const dOrangeUnder = [[39,19],[41,18],[42,20],[17,13],[15,14],[18,9],[15,10],[20,9],[19,6],[31,0],[32,1],[32,-3],[30,-1],[43,1],[46,1],[47,5],[49,2],[44,-1],[60,3],[63,6],[64,3],[59,6],[75,2],[77,-2],[78,1],[76,-1],[74,-3],[78,-5],[57,-4],[61,-3],[61,-6],[17,-3],[18,-5],[20,-3],[22,-1],[14,-2],[33,-6],[31,-7],[35,-5],[10,-9],[12,-10],[9,-11],[13,-9],[20,-9],[18,-7],[22,-10],[16,-9],[12,-14],[17,-15],[20,-12],[18,-13],[24,-10],[23,-6],[53,-9],[53,-12],[56,-13],[35,-11],[34,-16],[32,-13],[38,-12],[45,-17],[47,-16],[41,-16],[45,-20],[30,-22],[28,-23],[33,-22],[30,-19],[40,-19],[37,-24],[41,-21],[44,-23],[40,-25],[56,-20],[58,-25],[55,-24],[59,-19],[53,-24],[71,-22],[73,-19],[68,-25],[66,-26],[65,-25],[22,-26],[23,-31],[24,-26],[19,-27],[20,-31],[33,-30],[32,-29],[35,-29],[33,-33],[49,-27],[50,-30],[46,-29],[47,-24],[40,-41],[43,-39],[38,-45],[41,-44],[39,-42],[42,-41],[20,-51],[20,-53],[18,-55],[21,-56],[19,-58],[21,-58]];
const dOrange = [[41.3,22.1],[40,17.1],[40,20],[37.9,21.3],[14.4,12],[19.4,12],[13.1,9.8],[16.3,7.5],[19.4,8.1],[17.3,15.9],[21.6,5.8],[30.6,2.5],[33.8,1.9],[34.4,-1.5],[27.1,4.4],[41.9,3.6],[51.3,3.6],[48.1,0.8],[44,6.4],[45.4,3.6],[58.1,5.3],[66.3,4.7],[62.5,4.5],[61.9,7.5],[73.8,-0.3],[80,0.8],[75,-4.8],[79.4,-6.5],[79,-3.5],[76.6,4.2],[56.3,-0.9],[63.1,-4.3],[60,-4.8],[58.1,-2.9],[15,-3.7],[23.1,-3.7],[16.3,0.2],[20,-0.9],[29.4,-6],[35,-1.5],[31.9,-4.5],[8.1,-8.8],[11.3,-7.1],[21.3,-6.5],[24.4,-7.1],[25,-11],[10.6,-11],[13.8,-11.6],[14.4,-16],[19.4,-14.3],[23.8,-11.5],[16.9,-11.9],[22.1,-14],[51.9,-11],[50.6,-13.3],[57.5,-11],[54.8,-10.4],[33.1,-14.4],[31.9,-16.6],[38.1,-9.7],[36.9,-13.8],[45.6,-15.5],[44.4,-14.9],[42.5,-18.9],[48.4,-18.1],[28.5,-20.5],[31.3,-20.5],[30.6,-23.9],[38,-20.5],[42.5,-25],[39.6,-22.2],[54.4,-21.7],[60.6,-21.1],[56.3,-26.3],[57.5,-18.1],[57.5,-22.8],[74.4,-20.5],[72.5,-22.8],[65.6,-23],[63.8,-27.8],[66.9,-28.4],[70,-18.9],[69.4,-23],[26.9,-25.6],[19.4,-30],[24.6,-28.7],[21.9,-30.1],[20,-25.6],[32.5,-27.3],[36.3,-30.1],[34.4,-32.2],[31.9,-31.2],[47.5,-26.2],[51.6,-28],[48.1,-29.5],[51.6,-25.6],[42.5,-37.4],[44.4,-41.3],[36.3,-43.5],[42.5,-43.5],[37.5,-48],[38.8,-39.1],[40,-46.4],[21.6,-48.3],[23.1,-54.8],[16.3,-52.5],[18.8,-51.1],[17.5,-58.7],[20,-55.9],[22.1,-59.5]];
const dGreenUnder = [[0,75],[1,76],[-3,75],[-4,77],[1,72],[4,76],[-3,64],[-2,62],[1,65],[-3,67],[-6,64],[0,62],[-1,67],[16,66],[20,66],[23,67],[26,64],[20,63],[19,68],[15,68],[18,65],[24,70],[27,66],[21,62],[14,63],[14,51],[17,50],[17,53],[24,51],[25,48],[28,51],[13,50],[19,51],[22,50],[27,52],[29,49],[22,54],[40,51],[41,56],[39,53],[43,52],[38,53],[42,50],[41,47],[39,44],[40,43],[42,44],[-6,43],[-6,39],[-2,40],[-3,44],[-8,43],[-1,45],[-10,42],[-7,38],[-1,41],[-5,45],[-2,47],[6,34],[8,33],[4,33],[10,30],[13,33],[14,31],[11,34],[7,30],[2,32],[9,36],[12,29],[17,30],[16,35],[5,30],[0,35]];
const dGreen = [[2.5,77.7],[-0.6,74.5],[3.8,73.7],[-2.5,77.3],[-4.4,65.9],[-5,62.5],[2.5,63.9],[-1.9,63.1],[14.4,65.3],[16.9,62],[22.5,63.1],[26.9,68.7],[25,65.9],[17.3,68.4],[22.5,69.2],[23.8,49.6],[12.5,52.4],[15,48.8],[21.6,47.6],[26.5,49.6],[20,53],[26.3,53],[37.5,55.8],[38.1,51.3],[42.5,53.9],[44.4,49.6],[40.6,53.9],[37.1,45.1],[41.3,45.7],[40,41.9],[43.1,41.5],[-9.4,37.8],[-3.8,39.6],[-3.8,42.3],[1.9,46.5],[-11.9,44.6],[0,43.7],[-5.6,46.5],[-8.4,40.4],[7.5,32.8],[15.6,32.8],[2.5,34.5],[-0.6,31.1],[3.8,31.1],[15,29.4],[8.8,27.7],[5.6,36.1],[13.1,35],[11.3,31.6]];

const BLUE = '#3a7db9', ORANGE = '#f77f12', GREEN = '#42ab48';
const HALO = { [BLUE]: 'rgba(58,125,185,0.15)', [ORANGE]: 'rgba(247,127,18,0.15)', [GREEN]: 'rgba(66,171,72,0.15)' };
const RING = { [BLUE]: '#eaf1f8', [ORANGE]: '#fef1e3', [GREEN]: '#eaf6ea' };

function toPoints(list) {
  return list.map(p => ({ x: p[0], y: p[1] }));
}

function makeSeries(list, color, order) {
  return {
    data: toPoints(list),
    backgroundColor: color,
    borderColor: RING[color],
    borderWidth: 1.2,
    pointRadius: 8.8,
    order: order
  };
}

// soft tint around the markers
function makeHalo(list, color) {
  return {
    data: toPoints(list),
    backgroundColor: HALO[color],
    borderWidth: 0,
    pointRadius: 11,
    order: 10
  };
}

function axis(min, max, ticks, width, height, padding) {
  return {
    type: 'linear',
    min: min,
    max: max,
    border: { display: true, color: '#3a3a3a', width: 2 },
    grid: { drawOnChartArea: false, drawTicks: true, tickLength: 10, tickWidth: 2, tickColor: '#3a3a3a' },
    ticks: {
      color: '#4a4a4a',
      padding: padding,
      autoSkip: false,
      maxRotation: 0,
      font: { family: '"Liberation Sans", Arial, sans-serif', size: 32 },
      callback: v => String(v).replace('-', '\u2212')
    },
    afterBuildTicks: s => { s.ticks = ticks.map(v => ({ value: v })); },
    afterFit: s => {
      if (width) s.width = width;
      if (height) s.height = height;
      // labels may overhang the plot, the box is set by hand
      s.paddingTop = s.paddingBottom = s.paddingLeft = s.paddingRight = 0;
    }
  };
}

function drawPanel(id, blue, orange, green, xr, yr, xTicks, yTicks, rightPad) {
  new Chart(document.getElementById(id), {
    type: 'scatter',
    data: {
      datasets: [
        makeHalo(blue, BLUE), makeHalo(orange, ORANGE), makeHalo(green, GREEN),
        makeSeries(green, GREEN, 1), makeSeries(orange, ORANGE, 2), makeSeries(blue, BLUE, 3)
      ]
    },
    options: {
      responsive: false,
      animation: false,
      devicePixelRatio: 1,
      layout: { autoPadding: false, padding: { top: 23, right: rightPad, left: 0, bottom: 0 } },
      plugins: { legend: { display: false }, tooltip: { enabled: false } },
      scales: {
        x: axis(xr[0], xr[1], xTicks, 0, 68, 12),
        y: axis(yr[0], yr[1], yTicks, 117, 0, 14)
      }
    }
  });
}

drawPanel('chartA', aBlueUnder.concat(aBlue), aOrangeUnder.concat(aOrange), aGreenUnder.concat(aGreen), [-76.3, 86.9], [-75.6, 85.4], aXTicks, aYTicks, 11);
drawPanel('chartB', bBlueUnder.concat(bBlue), bOrangeUnder.concat(bOrange), bGreenUnder.concat(bGreen), [-76.1, 80.9], [-81.9, 85.9], bXTicks, bYTicks, 13);
drawPanel('chartC', cBlueUnder.concat(cBlue), cOrangeUnder.concat(cOrange), cGreenUnder.concat(cGreen), [-77.7, 78.8], [-77.4, 81.2], cXTicks, cYTicks, 11);
drawPanel('chartD', dBlueUnder.concat(dBlue), dOrangeUnder.concat(dOrange), dGreenUnder.concat(dGreen), [-76.1, 88.8], [-66.5, 85.4], dXTicks, dYTicks, 13);
</script>
</body>
</html>
